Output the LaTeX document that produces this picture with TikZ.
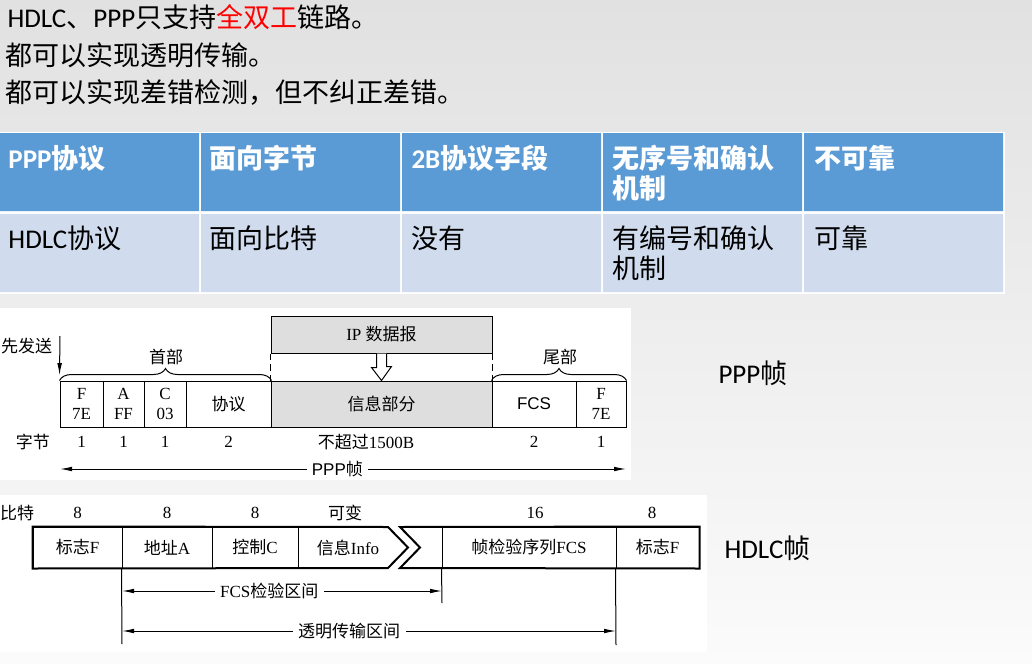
\documentclass[tikz,border=0pt]{standalone}
\usepackage{fontspec}
\setmainfont{Liberation Serif}
\newfontfamily\zhfont{Noto Sans CJK SC}
\newfontfamily\latfont{Carlito}
\newfontfamily\arfont{Liberation Sans}
\usetikzlibrary{arrows.meta,calc,decorations.pathreplacing}
\definecolor{hdblue}{HTML}{5B9BD5}
\definecolor{rowblue}{HTML}{D0DCEE}
\definecolor{infogray}{HTML}{DEDEDE}
\definecolor{bgtop}{HTML}{E1E1E1}
\definecolor{bgmid}{HTML}{F1F1F1}
\definecolor{bgbot}{HTML}{FBFBFB}
\newcommand\zh[1]{{\zhfont #1}}
\newcommand\la[1]{{\latfont #1}}
\newcommand\px{0.75pt}
\newcommand\slsize{\fontsize{20.25}{22.5}\selectfont}
\newcommand\dsize{\fontsize{12.75}{15}\selectfont}
\tikzset{
  sl/.style={font=\zhfont\slsize, anchor=west, inner sep=0pt, align=left},
  hd/.style={sl, text=white, font=\zhfont\bfseries\slsize},
  dt/.style={font=\dsize, inner sep=1pt},
  pbox/.style={draw, minimum height=46*\px, inner sep=0pt, font=\dsize, align=center},
  hbox/.style={draw, minimum height=41*\px, inner sep=0pt, font=\dsize},
  arr/.style={-{Latex[length=9pt,width=3.5pt]}},
  dim/.style={{Latex[length=9pt,width=3.5pt]}-{Latex[length=9pt,width=3.5pt]}},
  gap/.style={dt, fill=white, inner xsep=4pt},
  brc/.style={decorate, decoration={brace, amplitude=9pt}}
}
\begin{document}
\begin{tikzpicture}[x=0.75pt, y=-0.75pt, line width=0.75pt]
\useasboundingbox (0,0) rectangle (1032,664);
\shade[top color=bgtop, middle color=bgmid, bottom color=bgbot] (0,0) rectangle (1032,664);

\node[sl] (l1) at (7,17) {\la{HDLC}、\la{PPP}只支持\textcolor{red}{全双工}链路。};
\node[sl] (l2) at (5,55) {都可以实现透明传输。};
\node[sl] (l3) at (5,93) {都可以实现差错检测，但不纠正差错。};

\fill[white] (0,132) rectangle (1005,294);
\fill[hdblue] (0,133) rectangle (199,211) (201,133) rectangle (400,211) (402,133) rectangle (601,211)
  (603,133) rectangle (802,211) (804,133) rectangle (1003,211);
\fill[rowblue] (0,214) rectangle (199,292) (201,214) rectangle (400,292) (402,214) rectangle (601,292)
  (603,214) rectangle (802,292) (804,214) rectangle (1003,292);
\node[hd] (t11) at (8,158) {\la{PPP}协议};
\node[hd] (t12) at (209,158) {面向字节};
\node[hd] (t13) at (411,158) {\la{2B}协议字段};
\node[hd] (t14) at (612,173) {无序号和确认\\机制};
\node[hd] (t15) at (814,158) {不可靠};
\node[sl] (t21) at (8,238) {\la{HDLC}协议};
\node[sl] (t22) at (209,238) {面向比特};
\node[sl] (t23) at (411,238) {没有};
\node[sl] (t24) at (612,253) {有编号和确认\\机制};
\node[sl] (t25) at (814,238) {可靠};

\fill[white] (0,308) rectangle (631,480);
\node[pbox, minimum width=221*\px, minimum height=37*\px, fill=infogray] (ip) at (381.5,334.5) {IP \zh{数据报}};
\node[pbox, minimum width=43*\px] (pf1) at (81.5,404) {F\\7E};
\node[pbox, minimum width=41*\px] (pa) at (123.5,404) {A\\FF};
\node[pbox, minimum width=42*\px] (pc) at (165,404) {C\\03};
\node[pbox, minimum width=85*\px] (ppr) at (228.5,404) {\zh{协议}};
\node[pbox, minimum width=221*\px, fill=infogray] (pinf) at (381.5,404) {\zh{信息部分}};
\node[pbox, minimum width=84*\px] (pfcs) at (534,404) {\arfont FCS};
\node[pbox, minimum width=50*\px] (pf2) at (601,404) {F\\7E};

\draw[brc] (pf1.north west) -- (ppr.north east);
\draw[brc] (pfcs.north west) -- (pf2.north east);
\node[dt] (shou) at (166,357) {\zh{首部}};
\node[dt] (wei) at (560,357) {\zh{尾部}};
\draw[dash pattern=on 5pt off 3pt] (ip.south west) -- (pinf.north west);
\draw[dash pattern=on 5pt off 3pt] (ip.south east) -- (pinf.north east);
\draw[fill=white] ($(ip.south)+(-5,0)$) -- ++(0,14) -- ++(-5,0) -- (pinf.north)
  -- ($(pinf.north)+(10,-14)$) -- ++(-5,0) -- ($(ip.south)+(5,0)$);

\node[dt, anchor=east] (snd) at (54,346) {\zh{先发送}};
\coordinate (sndtop) at (60,336);
\draw[arr] (sndtop) -- ([yshift=4pt]pf1.north west);

\node[dt] (zj) at (33,442) {\zh{字节}};
\node[dt] (b1) at (pf1 |- zj) {1};
\node[dt] (b2) at (pa |- zj) {1};
\node[dt] (b3) at (pc |- zj) {1};
\node[dt] (b4) at (ppr |- zj) {2};
\node[dt] (b5) at (366,442) {\zh{不超过}1500B};
\node[dt] (b6) at (pfcs |- zj) {2};
\node[dt] (b7) at (pf2 |- zj) {1};
\coordinate (pl) at (60,469);
\coordinate (pr) at (626,469);
\draw[dim] (pl) -- node[gap, pos=0.49] {\arfont PPP\zh{帧}} (pr);

\fill[white] (0,495) rectangle (707,652);
\node[dt] (bt) at (17,513) {\zh{比特}};
\node[hbox, minimum width=89*\px] (hf1) at (77.5,547.5) {\zh{标志}F};
\node[hbox, minimum width=90*\px] (ha) at (167,547.5) {\zh{地址}A};
\node[hbox, minimum width=86*\px] (hc) at (255,547.5) {\zh{控制}C};
\node[dt] (hinf) at (348,547.5) {\zh{信息}Info};
\node[hbox, minimum width=174*\px] (hfcs) at (529,547.5) {\zh{帧检验序列}FCS};
\node[hbox, minimum width=83*\px] (hf2) at (657.5,547.5) {\zh{标志}F};
\node[dt] (n1) at (hf1 |- bt) {8};
\node[dt] (n2) at (ha |- bt) {8};
\node[dt] (n3) at (hc |- bt) {8};
\node[dt] (n4) at (345,513) {\zh{可变}};
\node[dt] (n5) at (535,513) {16};
\node[dt] (n6) at (652,513) {8};
\draw[line width=1.5pt] (hf1.north west) -- (388,527) -- (408,547.5) -- (388,568) -- (hf1.south west) -- cycle;
\draw[line width=1.5pt] (400,527) -- (hf2.north east) -- (hf2.south east) -- (400,568) -- (420,547.5) -- cycle;

\coordinate (c1) at (122,644);
\coordinate (c2) at (442,603);
\coordinate (c3) at (616,645);
\draw (ha.south west) -- (c1);
\draw (hfcs.south west) -- (c2);
\draw (hf2.south west) -- (c3);
\coordinate (fl) at (122,591);
\coordinate (fr) at (442,591);
\draw[dim] (fl) -- node[gap, pos=0.46] {FCS\zh{检验区间}} (fr);
\coordinate (tl) at (122,631);
\coordinate (tr) at (616,631);
\draw[dim] (tl) -- node[gap, pos=0.46] {\zh{透明传输区间}} (tr);

\node[sl] (pppl) at (718,373) {\la{PPP}帧};
\node[sl] (hdlcl) at (724,548) {\la{HDLC}帧};
\end{tikzpicture}
\end{document}
